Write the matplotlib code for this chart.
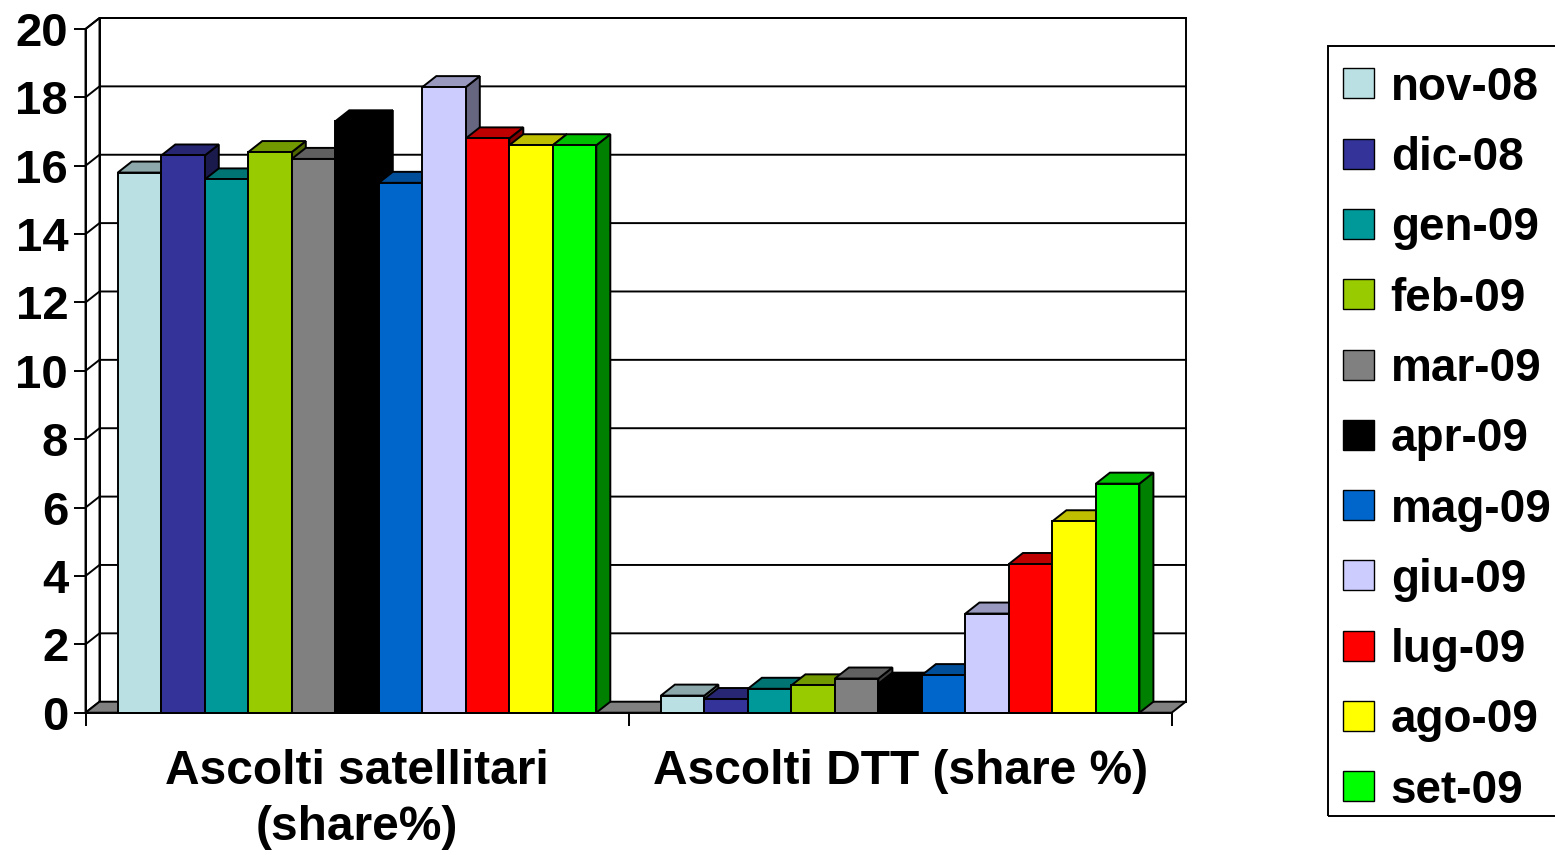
import matplotlib
matplotlib.use('Agg')
import matplotlib.pyplot as plt
from matplotlib.patches import Polygon, Rectangle
from matplotlib.colors import to_rgb
import numpy as np

# ---------------- data ----------------
months = ['nov-08', 'dic-08', 'gen-09', 'feb-09', 'mar-09', 'apr-09',
          'mag-09', 'giu-09', 'lug-09', 'ago-09', 'set-09']
categories = ['Ascolti satellitari\n(share%)', 'Ascolti DTT (share %)']
sat_share = [15.8, 16.3, 15.6, 16.4, 16.2, 17.3, 15.5, 18.3, 16.8, 16.6, 16.6]
dtt_share = [0.5, 0.4, 0.7, 0.8, 1.0, 0.85, 1.1, 2.9, 4.35, 5.6, 6.7]
colors = ['#BBE0E3', '#333399', '#009999', '#99CC00', '#808080', '#000000',
          '#0066CC', '#CCCCFF', '#FF0000', '#FFFF00', '#00FF00']
yticks = [0, 2, 4, 6, 8, 10, 12, 14, 16, 18, 20]

series_by_cat = [sat_share, dtt_share]

# ---------------- figure ----------------
W, H, DPI = 1555, 855, 100
plt.rcParams['font.family'] = ['Liberation Sans', 'DejaVu Sans']
plt.rcParams['font.weight'] = 'bold'
FS = 33
FS_TICK = 34
FS_CAT = 34.5

fig = plt.figure(figsize=(W / DPI, H / DPI), dpi=DPI)
fig.patch.set_facecolor('white')

# front plane of the 3-D box, in pixels
fx0, fx1, fy0, fy1 = 85.5, 1171.7, 712.7, 29.0
ax = fig.add_axes([fx0 / W, 1 - fy0 / H, (fx1 - fx0) / W, (fy0 - fy1) / H])
ax.set_xlim(0, 2)
ax.set_ylim(0, 20)
ax.patch.set_visible(False)

depth_px = (14.0, 11.0)
DX = depth_px[0] * 2 / (fx1 - fx0)
DY = depth_px[1] * 20 / (fy0 - fy1)
LW = 1.4

def shade(c, f):
    r, g, b = to_rgb(c)
    return (r * f, g * f, b * f)

def add(p):
    p.set_clip_on(False)
    ax.add_patch(p)

# walls
add(Polygon([(DX, DY), (2 + DX, DY), (2 + DX, 20 + DY), (DX, 20 + DY)],
            closed=True, fc='white', ec='black', lw=LW, zorder=0.5))
add(Polygon([(0, 0), (DX, DY), (DX, 20 + DY), (0, 20)],
            closed=True, fc='white', ec='black', lw=LW, zorder=0.5))
for v in yticks[1:]:
    ax.plot([0, DX, 2 + DX], [v, v + DY, v + DY], color='black', lw=LW,
            clip_on=False, zorder=0.6, solid_joinstyle='miter')
# floor
add(Polygon([(0, 0), (2, 0), (2 + DX, DY), (DX, DY)], closed=True,
            fc='#808080', ec='black', lw=LW, zorder=0.7))

# bars
nbar = len(months)
bw = 0.0801
z = 1.0
for c, vals in enumerate(series_by_cat):
    start = c + 0.5 - nbar * bw / 2
    for i, (v, col) in enumerate(zip(vals, colors)):
        x = start + i * bw
        ec = 'black'
        side = Polygon([(x + bw, 0), (x + bw + DX, DY), (x + bw + DX, v + DY), (x + bw, v)],
                       closed=True, fc=shade(col, 0.5), ec=ec, lw=LW, zorder=z)
        top = Polygon([(x, v), (x + bw, v), (x + bw + DX, v + DY), (x + DX, v + DY)],
                      closed=True, fc=shade(col, 0.75), ec=ec, lw=LW, zorder=z + 0.01)
        front = Rectangle((x, 0), bw, v, fc=col, ec=ec, lw=LW, zorder=z + 0.02)
        add(side); add(top); add(front)
        z += 0.05

# axes styling
for s in ['top', 'right']:
    ax.spines[s].set_visible(False)
ax.spines['left'].set_linewidth(LW)
ax.spines['bottom'].set_linewidth(LW)
ax.spines['left'].set_zorder(10)
ax.spines['bottom'].set_zorder(10)
ax.set_yticks(yticks)
ax.set_yticklabels([str(t) for t in yticks])
ax.tick_params(axis='y', direction='out', length=9, width=LW, labelsize=FS_TICK, pad=3.5)
ax.set_xticks([0, 1, 2])
ax.set_xticklabels([])
ax.tick_params(axis='x', which='major', direction='out', length=9, width=LW)
ax.set_xticks([0.5, 1.5], minor=True)
ax.set_xticklabels(categories, minor=True, fontsize=FS_CAT, fontweight='bold',
                   linespacing=1.33)
ax.tick_params(axis='x', which='minor', length=0, pad=26)
for lab in ax.get_yticklabels():
    lab.set_fontweight('bold')

# legend (manual, Excel style)
def fx(px):
    return px / W

def fy(py):
    return 1 - py / H

fig.add_artist(Rectangle((fx(1328), fy(816)), fx(1620) - fx(1328), fy(45.7) - fy(816),
                         transform=fig.transFigure, fill=False, ec='black', lw=LW))
for i, (m, col) in enumerate(zip(months, colors)):
    cy = 83.3 + i * 70.3
    fig.add_artist(Rectangle((fx(1343.3), fy(cy + 15)), fx(30.7), 30 / H,
                             transform=fig.transFigure, fc=col, ec='black', lw=1.0))
    fig.text(fx(1390.7), fy(cy + 16.5), m, fontsize=FS, fontweight='bold',
             va='baseline', ha='left')

fig.savefig('out.png', dpi=DPI, facecolor='white')
